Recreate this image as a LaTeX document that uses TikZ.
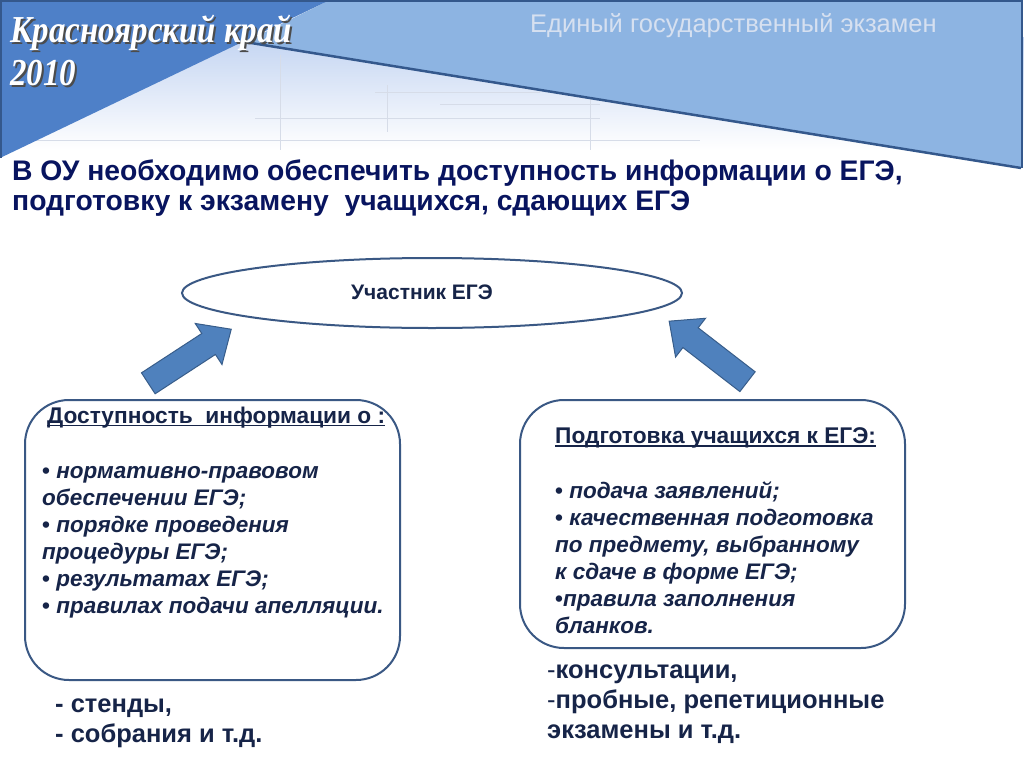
\documentclass[tikz,border=0pt]{standalone}
\usepackage{fontspec}
\setmainfont{Liberation Sans}
\newfontfamily\titleserif{Liberation Serif}
\usetikzlibrary{shapes.geometric}
\definecolor{hdark}{RGB}{78,128,200}
\definecolor{hlight}{RGB}{141,180,226}
\definecolor{hborder}{RGB}{52,88,140}
\definecolor{hgrad}{RGB}{196,213,242}
\definecolor{gridc}{RGB}{214,220,232}
\definecolor{headtxt}{RGB}{8,20,95}
\definecolor{navy}{RGB}{22,36,72}
\definecolor{boxline}{RGB}{58,88,132}
\definecolor{arrfill}{RGB}{79,129,189}
\definecolor{arrline}{RGB}{56,93,138}
\definecolor{subtitle}{RGB}{214,224,240}
\begin{document}
\begin{tikzpicture}[x=1pt,y=-1pt,
  gridline/.style={draw=gridc,line width=0.8pt},
  bigarrow/.style={draw=arrline,fill=arrfill,line width=1pt,line join=miter},
  roundbox/.style={draw=boxline,line width=2pt,rounded corners=44pt,fill=white},
  boxtitle/.style={anchor=base west,inner sep=0pt,text=navy,font=\fontsize{22.7}{25}\selectfont\bfseries},
  itemtext/.style={anchor=base west,inner sep=0pt,text=navy,align=left,
    font=\fontsize{22.5}{27}\selectfont\bfseries\itshape},
  lowtext/.style={anchor=base west,inner sep=0pt,text=navy,align=left,
    font=\fontsize{25.5}{30}\selectfont\bfseries},
  headtext/.style={anchor=base west,inner sep=0pt,text=headtxt,
    font=\fontsize{28.3}{30}\selectfont\bfseries},
  regiontext/.style={anchor=base west,inner sep=0pt,font=\fontsize{34}{40}\selectfont\titleserif\bfseries\itshape}]
\useasboundingbox (0,0) rectangle (1024,768);
\fill[white] (0,0) rectangle (1024,768);
% header background
\shade[top color=hgrad,bottom color=white] (0,38) rectangle (1024,150);
\draw[gridline] (280,55) -- (280,150);
\draw[gridline] (387,85) -- (387,132);
\draw[gridline] (590,95) -- (590,150);
\draw[gridline] (375,92) -- (540,92);
\draw[gridline] (440,104) -- (600,104);
\draw[gridline] (255,118) -- (600,118);
\draw[gridline] (0,140) -- (700,140);
\fill[hlight] (330,0) -- (1021,0) -- (1021,168) -- (245,42) -- cycle;
\fill[hdark] (0,0) -- (330,0) -- (0,158) -- cycle;
\draw[hborder,line width=2.5pt] (245,42) -- (1021,168);
\draw[hborder,line width=2pt] (0,1.5) -- (1022,1.5) -- (1022,168);
\draw[hborder,line width=1.5pt] (1,0) -- (1,158);
% header texts
\node[regiontext,text=black!70] at (12,45) {\scalebox{0.97}[1.12]{Красноярский край}};
\node[regiontext,text=white] (region) at (10,43) {\scalebox{0.97}[1.12]{Красноярский край}};
\node[regiontext,text=black!70] at (12,87) {\scalebox{0.97}[1.12]{2010}};
\node[regiontext,text=white] (year) at (10,85) {\scalebox{0.97}[1.12]{2010}};
\node[anchor=base west,inner sep=0pt,text=subtitle,font=\fontsize{25.5}{28}\selectfont] (exam) at (530,33) {Единый государственный экзамен};
% heading
\node[headtext] (head1) at (12,180) {В ОУ необходимо обеспечить доступность информации о ЕГЭ,};
\node[headtext] (head2) at (12,210) {подготовку к экзамену\ \ учащихся, сдающих ЕГЭ};
% ellipse
\node[ellipse,draw=boxline,line width=2pt,fill=white,minimum width=500pt,minimum height=70pt] (part) at (432,293) {};
\node[text=navy,font=\fontsize{21}{24}\selectfont\bfseries,inner sep=0pt] (partlbl) at (422,292) {Участник ЕГЭ};
% boxes
\node[roundbox,minimum width=375pt,minimum height=280pt] (lbox) at (212.5,540) {};
\node[roundbox,minimum width=385pt,minimum height=248pt] (rbox) at (712.5,524) {};
% arrows (block arrows from boxes towards the ellipse)
\coordinate (ltail) at (148.3,383.3);
\coordinate (rtail) at (747.5,381.7);
\begin{scope}[shift={(ltail)},rotate=33.1]
  \draw[bigarrow] (0,-12.5) -- (72,-12.5) -- (72,-24.5) -- (99,0) -- (72,24.5) -- (72,12.5) -- (0,12.5) -- cycle;
\end{scope}
\begin{scope}[shift={(rtail)},rotate=142.3]
  \draw[bigarrow] (0,-12.5) -- (72,-12.5) -- (72,-24.5) -- (99,0) -- (72,24.5) -- (72,12.5) -- (0,12.5) -- cycle;
\end{scope}
% left box texts
\node[boxtitle] (ltitle) at (47,423) {Доступность\ \ информации о :};
\draw[navy,line width=1.3pt] ([yshift=-2.5pt]ltitle.base west) -- ([yshift=-2.5pt]ltitle.base east);
\node[itemtext] (litems) at (42,613) {{\upshape•} нормативно-правовом\\обеспечении ЕГЭ;\\{\upshape•} порядке проведения\\процедуры ЕГЭ;\\{\upshape•} результатах ЕГЭ;\\{\upshape•} правилах подачи апелляции.};
% right box texts
\node[boxtitle] (rtitle) at (555,443) {Подготовка учащихся к ЕГЭ:};
\draw[navy,line width=1.3pt] ([yshift=-3pt]rtitle.base west) -- ([yshift=-3pt]rtitle.base east);
\node[itemtext] (ritems) at (555,633) {{\upshape•} подача заявлений;\\{\upshape•} качественная подготовка\\по предмету, выбранному\\к сдаче в форме ЕГЭ;\\{\upshape•}правила заполнения\\бланков.};
% bottom texts
\node[lowtext] (lmeans) at (55,742) {- стенды,\\- собрания и т.д.};
\node[lowtext] (rmeans) at (547,738) {{\mdseries -}консультации,\\{\mdseries -}пробные, репетиционные\\экзамены и т.д.};
\end{tikzpicture}
\end{document}
